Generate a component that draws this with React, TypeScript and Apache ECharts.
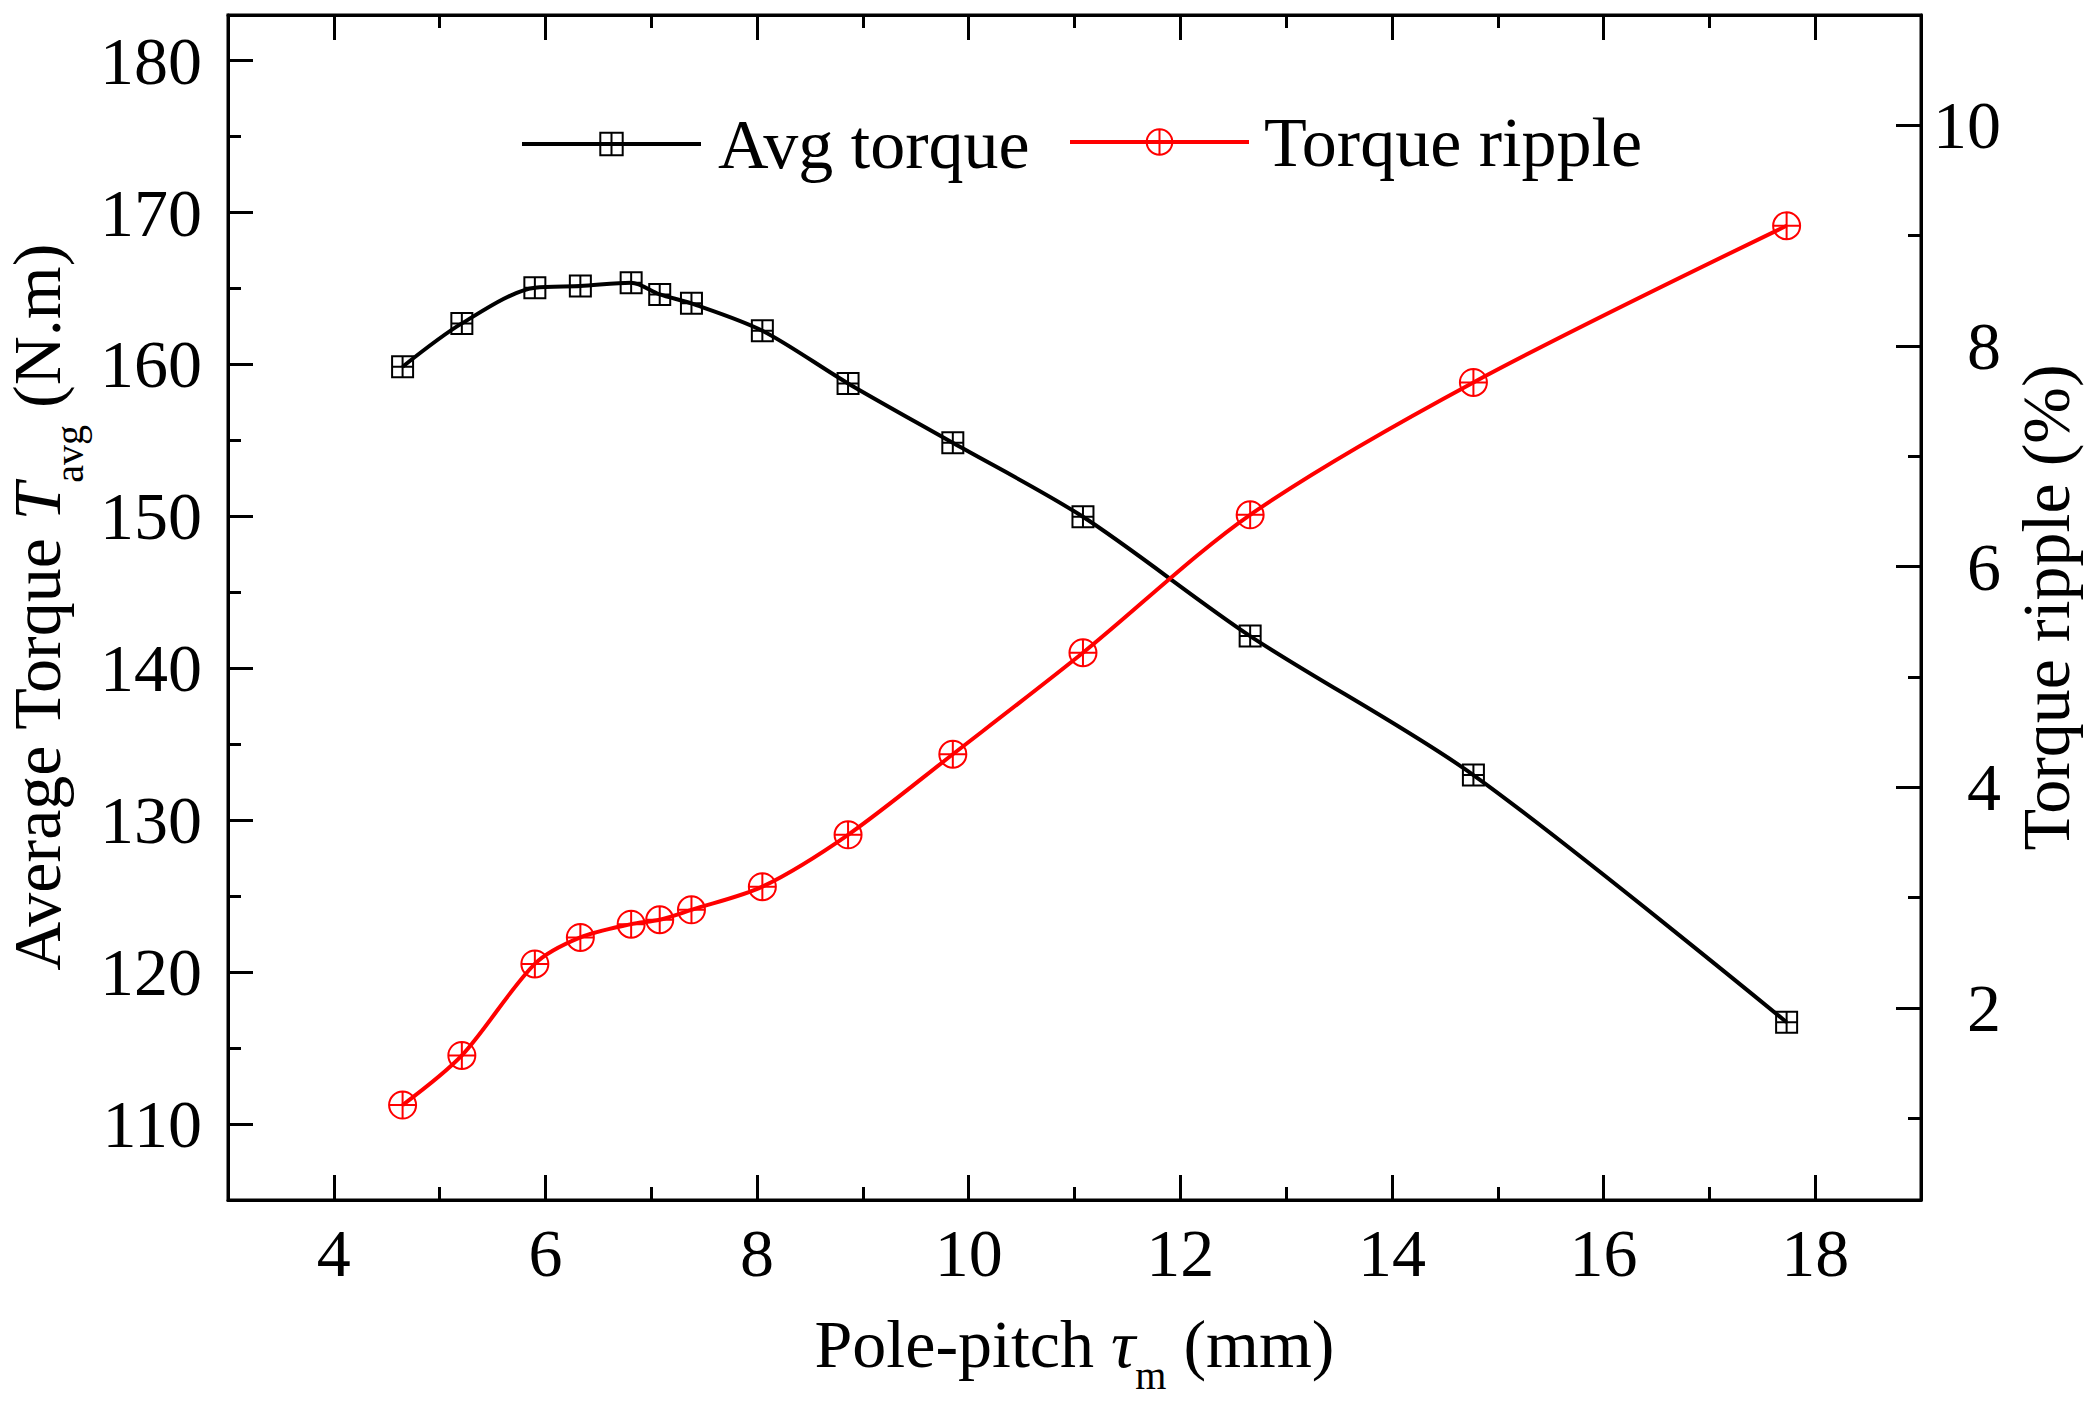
import React, { useEffect, useRef } from 'react';
import * as echarts from 'echarts';

// pole pitch (mm)
const polePitch = [4.65, 5.21, 5.9, 6.33, 6.81, 7.08, 7.38, 8.05, 8.86, 9.85, 11.08, 12.66, 14.77, 17.73];
// average torque (N.m)
const avgTorque = [159.85, 162.7, 165.05, 165.16, 165.38, 164.61, 164.02, 162.22, 158.75, 154.84, 149.97, 142.12, 132.97, 116.7];
// torque ripple (%)
const torqueRipple = [1.12, 1.57, 2.4, 2.64, 2.76, 2.8, 2.89, 3.1, 3.57, 4.3, 5.22, 6.47, 7.67, 9.09];

const xMajor = [4, 6, 8, 10, 12, 14, 16, 18];
const xMinor = [5, 7, 9, 11, 13, 15, 17];
const leftMajor = [110, 120, 130, 140, 150, 160, 170, 180];
const leftMinor = [115, 125, 135, 145, 155, 165, 175];
const rightMajor = [2, 4, 6, 8, 10];
const rightMinor = [1, 3, 5, 7, 9];

const FONT = "'Liberation Serif', 'Times New Roman', serif";
const SQUARE = 'path://M0,0L20,0L20,20L0,20Z M10,0L10,20 M0,10L20,10';
const CIRCLE = 'path://M0,10A10,10,0,1,1,20,10A10,10,0,1,1,0,10Z M10,0L10,20 M0,10L20,10';

// subscript: top padding pushes the small text down by half its value
const titleStyle = {
  fontFamily: FONT,
  fontSize: 68,
  color: '#000',
  lineHeight: 68,
  rich: {
    i: { fontFamily: FONT, fontSize: 68, fontStyle: 'italic', color: '#000', lineHeight: 68 },
    sub: { fontFamily: FONT, fontSize: 40, color: '#000', lineHeight: 68, padding: [64, 0, 0, 0] },
  },
};

const tickAxis = (values: number[], len: number, extra: any) => ({
  type: 'value',
  splitLine: { show: false },
  axisLine: { show: false },
  axisLabel: { show: false },
  axisTick: { show: true, inside: true, length: len, customValues: values, lineStyle: { color: '#000', width: 3 } },
  ...extra,
});

const App: React.FC = () => {
  const chartRef = useRef<HTMLDivElement>(null);

  useEffect(() => {
    if (!chartRef.current) return;
    const chart = echarts.init(chartRef.current, undefined, { renderer: 'svg' });

    const axisLine = { show: true, lineStyle: { color: '#000', width: 3 } };
    const labelStyle = { fontFamily: FONT, fontSize: 68, color: '#000' };

    chart.setOption({
      animation: false,
      backgroundColor: '#fff',
      grid: {
        left: 228,
        right: 178,
        top: 15,
        bottom: 206,
        containLabel: false,
        outerBoundsMode: 'none',
        show: true,
        borderColor: '#000',
        borderWidth: 3,
      },
      legend: [
        {
          data: ['Avg torque'],
          left: 515,
          top: 104,
          itemWidth: 179,
          itemHeight: 28,
          selectedMode: false,
          lineStyle: { width: 4 },
          textStyle: { ...labelStyle, fontSize: 70, padding: [0, 0, 0, 12] },
        },
        {
          data: ['Torque ripple'],
          left: 1063,
          top: 102,
          itemWidth: 179,
          itemHeight: 32,
          selectedMode: false,
          lineStyle: { width: 4 },
          textStyle: { ...labelStyle, fontSize: 70, padding: [0, 0, 0, 10] },
        },
      ],
      xAxis: [
        {
          type: 'value',
          position: 'bottom',
          min: 3,
          max: 19,
          splitLine: { show: false },
          axisLine,
          axisTick: { inside: true, length: 25, customValues: xMajor, lineStyle: { color: '#000', width: 3 } },
          axisLabel: { ...labelStyle, margin: 19, customValues: xMajor },
          name: 'Pole-pitch {i|τ}{sub|m} (mm)',
          nameLocation: 'middle',
          nameGap: 109,
          nameTextStyle: titleStyle,
        },
        tickAxis(xMinor, 13, { position: 'bottom', min: 3, max: 19 }),
        tickAxis(xMajor, 25, { position: 'top', min: 3, max: 19, axisLine }),
        tickAxis(xMinor, 13, { position: 'top', min: 3, max: 19 }),
      ],
      yAxis: [
        {
          type: 'value',
          position: 'left',
          min: 105,
          max: 183,
          splitLine: { show: false },
          axisLine,
          axisTick: { inside: true, length: 25, customValues: leftMajor, lineStyle: { color: '#000', width: 3 } },
          axisLabel: { ...labelStyle, margin: 26, customValues: leftMajor },
          name: 'Average Torque {i|T}{sub|avg} (N.m)',
          nameLocation: 'middle',
          nameRotate: 90,
          nameGap: 146,
          nameTextStyle: titleStyle,
        },
        tickAxis(leftMinor, 13, { position: 'left', min: 105, max: 183 }),
        {
          type: 'value',
          position: 'right',
          min: 0.26,
          max: 11,
          splitLine: { show: false },
          axisLine,
          axisTick: { inside: true, length: 25, customValues: rightMajor, lineStyle: { color: '#000', width: 3 } },
          axisLabel: { ...labelStyle, margin: 80, align: 'right', customValues: rightMajor },
          name: 'Torque ripple (%)',
          nameLocation: 'middle',
          nameRotate: 90,
          nameGap: 88,
          nameTextStyle: { fontFamily: FONT, fontSize: 68, color: '#000' },
        },
        tickAxis(rightMinor, 13, { position: 'right', min: 0.26, max: 11 }),
      ],
      series: [
        {
          name: 'Avg torque',
          type: 'line',
          xAxisIndex: 0,
          yAxisIndex: 0,
          data: polePitch.map((x, i) => [x, avgTorque[i]]),
          smooth: 0.3,
          symbol: SQUARE,
          symbolSize: 21,
          lineStyle: { color: '#000', width: 4 },
          itemStyle: { color: 'rgba(0,0,0,0)', borderColor: '#000', borderWidth: 2 },
          z: 3,
        },
        {
          name: 'Torque ripple',
          type: 'line',
          xAxisIndex: 0,
          yAxisIndex: 2,
          data: polePitch.map((x, i) => [x, torqueRipple[i]]),
          smooth: 0.3,
          symbol: CIRCLE,
          symbolSize: 27,
          lineStyle: { color: '#ff0000', width: 4 },
          itemStyle: { color: 'rgba(0,0,0,0)', borderColor: '#ff0000', borderWidth: 2 },
          z: 3,
        },
      ],
    });

    return () => {
      chart.dispose();
    };
  }, []);

  return (
    <div
      ref={chartRef}
      style={{ position: 'fixed', left: 0, top: 0, width: '2099px', height: '1406px', background: '#fff' }}
    />
  );
};

export default App;
